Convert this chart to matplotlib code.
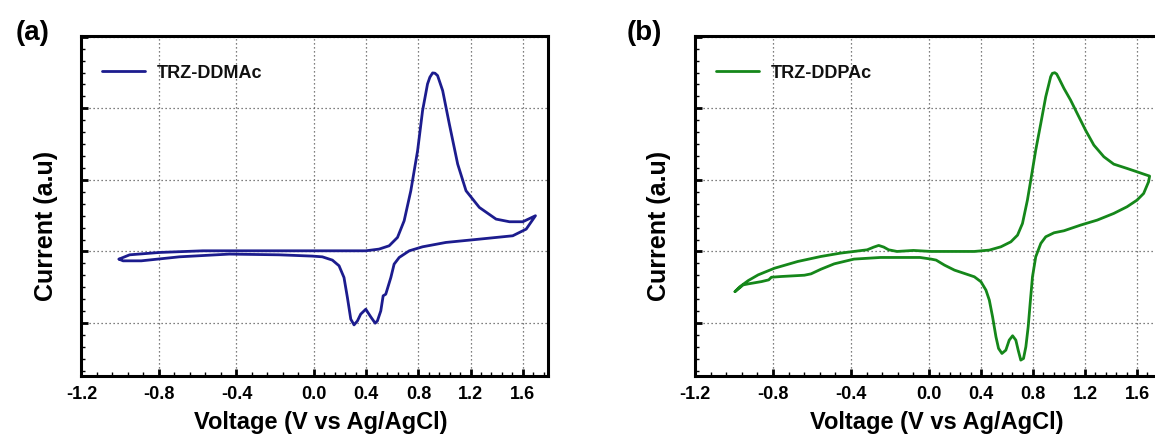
import numpy as np
import matplotlib
matplotlib.use("Agg")
import matplotlib.pyplot as plt
from matplotlib.ticker import MultipleLocator, FixedLocator

plt.rcParams['font.family'] = ['Liberation Sans', 'DejaVu Sans']
plt.rcParams['font.weight'] = 'bold'

# ---------------- data ----------------
# (a) TRZ-DDMAc : forward (anodic) scan then reverse scan
a_fwd_v = [-1.006, -0.951, -0.797, -0.574, -0.266, -0.009, 0.397, 0.499, 0.576, 0.640,
           0.691, 0.742, 0.794, 0.832, 0.870, 0.888, 0.909, 0.927, 0.947, 0.986,
           1.037, 1.101, 1.165, 1.267, 1.395, 1.498, 1.600, 1.697]
a_fwd_i = [-0.107, -0.047, -0.014, 0.009, 0.009, 0.009, 0.009, 0.033, 0.079, 0.196,
           0.429, 0.848, 1.408, 1.967, 2.340, 2.434, 2.494, 2.490, 2.457, 2.247,
           1.781, 1.221, 0.848, 0.615, 0.452, 0.415, 0.415, 0.499]
a_rev_v = [1.626, 1.523, 1.267, 1.011, 0.832, 0.730, 0.653, 0.614, 0.589, 0.550,
           0.530, 0.512, 0.486, 0.469, 0.435, 0.397, 0.358, 0.333, 0.307, 0.282,
           0.256, 0.230, 0.192, 0.141, 0.064, -0.009, -0.180, -0.437, -0.694, -0.891,
           -0.985, -1.006]
a_rev_i = [0.312, 0.219, 0.172, 0.126, 0.065, 0.009, -0.084, -0.177, -0.364, -0.597,
           -0.620, -0.830, -0.970, -1.002, -0.914, -0.807, -0.876, -0.970, -1.026, -0.946,
           -0.643, -0.364, -0.200, -0.121, -0.075, -0.065, -0.047, -0.037, -0.075, -0.131,
           -0.131, -0.107]

# (b) TRZ-DDPAc
b_fwd_v = [-0.995, -0.969, -0.927, -0.876, -0.792, -0.673, -0.554, -0.453, -0.385, -0.317,
           -0.283, -0.258, -0.232, -0.207, -0.164, -0.080, 0.017, 0.349, 0.464, 0.553,
           0.630, 0.681, 0.719, 0.757, 0.783, 0.821, 0.860, 0.898, 0.936, 0.949,
           0.967, 0.982, 1.000, 1.038, 1.089, 1.140, 1.204, 1.268, 1.345, 1.421,
           1.523, 1.600, 1.651, 1.697]
b_fwd_i = [-0.561, -0.491, -0.407, -0.327, -0.234, -0.140, -0.070, -0.023, 0.0, 0.023,
           0.061, 0.084, 0.061, 0.023, 0.0, 0.014, 0.0, 0.0, 0.019, 0.065,
           0.135, 0.228, 0.391, 0.717, 0.997, 1.416, 1.789, 2.161, 2.441, 2.488,
           2.497, 2.479, 2.417, 2.278, 2.115, 1.928, 1.695, 1.486, 1.323, 1.220,
           1.160, 1.113, 1.081, 1.053]
b_rev_v = [1.689, 1.651, 1.600, 1.523, 1.421, 1.294, 1.166, 1.038, 0.962, 0.898,
           0.860, 0.821, 0.796, 0.778, 0.763, 0.745, 0.727, 0.706, 0.686, 0.668,
           0.643, 0.617, 0.591, 0.561, 0.535, 0.515, 0.489, 0.464, 0.438, 0.400,
           0.349, 0.272, 0.196, 0.119, 0.055, 0.017, -0.046, -0.249, -0.385, -0.486,
           -0.554, -0.605, -0.639, -0.758, -0.808, -0.822, -0.859, -0.927, -0.953, -0.995]
b_rev_i = [0.973, 0.810, 0.717, 0.624, 0.531, 0.438, 0.368, 0.289, 0.261, 0.205,
           0.112, -0.075, -0.354, -0.727, -1.053, -1.332, -1.495, -1.518, -1.379, -1.239,
           -1.178, -1.239, -1.379, -1.425, -1.355, -1.192, -0.913, -0.680, -0.540, -0.424,
           -0.354, -0.307, -0.261, -0.191, -0.121, -0.107, -0.084, -0.084, -0.107, -0.173,
           -0.248, -0.313, -0.332, -0.350, -0.360, -0.397, -0.421, -0.453, -0.467, -0.561]

x_ticks = [-1.2, -0.8, -0.4, 0.0, 0.4, 0.8, 1.2, 1.6]
x_ticklabels = ['-1.2', '-0.8', '-0.4', '0.0', '0.4', '0.8', '1.2', '1.6']
labels = ['TRZ-DDMAc', 'TRZ-DDPAc']
panel_tags = ['(a)', '(b)']
colors = ['#1c1c8e', '#15871a']

# ---------------- figure ----------------
W, H = 1155, 437
fig = plt.figure(figsize=(W / 100, H / 100), dpi=100)


def make_scale(ratio):
    def fwd(x):
        x = np.asarray(x, dtype=float)
        return np.where(x < 0, x * ratio, x)

    def inv(x):
        x = np.asarray(x, dtype=float)
        return np.where(x < 0, x / ratio, x)
    return fwd, inv


panels = [
    dict(left=81.4, width=466.2, ratio=1.485, v=(a_fwd_v, a_rev_v), i=(a_fwd_i, a_rev_i),
         xlab_x=0.514, ylab_x=-0.076, tag_x=33),
    dict(left=695.0, width=466.7, ratio=1.5, v=(b_fwd_v, b_rev_v), i=(b_fwd_i, b_rev_i),
         xlab_x=0.519, ylab_x=-0.077, tag_x=644),
]

top_px, bot_px = 36, 376
for k, p in enumerate(panels):
    ax = fig.add_axes([p['left'] / W, (H - bot_px) / H, p['width'] / W, (bot_px - top_px) / H])
    ax.set_xscale('function', functions=make_scale(p['ratio']))
    volts = list(p['v'][0]) + list(p['v'][1])
    curr = list(p['i'][0]) + list(p['i'][1])
    ax.plot(volts, curr, color=colors[k], lw=2.0, solid_joinstyle='round',
            solid_capstyle='round', label=labels[k], zorder=3)
    ax.set_xlim(-1.2, 1.79)
    ax.set_ylim(-1.74, 3.01)

    ax.xaxis.set_major_locator(FixedLocator(x_ticks))
    ax.set_xticklabels(x_ticklabels)
    ax.xaxis.set_minor_locator(MultipleLocator(0.08))
    ax.yaxis.set_major_locator(MultipleLocator(1))
    ax.yaxis.set_minor_locator(MultipleLocator(1 / 6))
    ax.set_yticklabels([])

    ax.tick_params(which='major', direction='in', length=5, width=2.0,
                   labelsize=13, pad=7)
    ax.tick_params(which='minor', direction='in', length=3, width=1.0)
    ax.tick_params(axis='y', which='both', right=False)
    for lbl in ax.get_xticklabels():
        lbl.set_fontweight('bold')
    for s in ax.spines.values():
        s.set_linewidth(2.2)

    ax.grid(True, which='major', linestyle=(0, (1, 2.2)), color='#555555', lw=0.9)

    ax.set_xlabel('Voltage (V vs Ag/AgCl)', fontsize=17, fontweight='bold')
    ax.xaxis.set_label_coords(p['xlab_x'], -0.138)
    ax.xaxis.label.set_va('center')
    ax.set_ylabel('Current (a.u)', fontsize=18, fontweight='bold')
    ax.yaxis.set_label_coords(p['ylab_x'], 0.44)
    ax.yaxis.label.set_va('center')
    ax.yaxis.label.set_ha('center')

    leg = ax.legend(loc='center left', bbox_to_anchor=(0.044, 0.891), frameon=False,
                    fontsize=13, handlelength=2.4, handletextpad=0.65,
                    borderpad=0, borderaxespad=0)
    for t in leg.get_texts():
        t.set_fontweight('bold')
        t.set_color('#111111')

    fig.text(p['tag_x'] / W, 1 - 33 / H, panel_tags[k], fontsize=20, fontweight='bold',
             ha='center', va='center')

fig.savefig('out.png', dpi=100)
